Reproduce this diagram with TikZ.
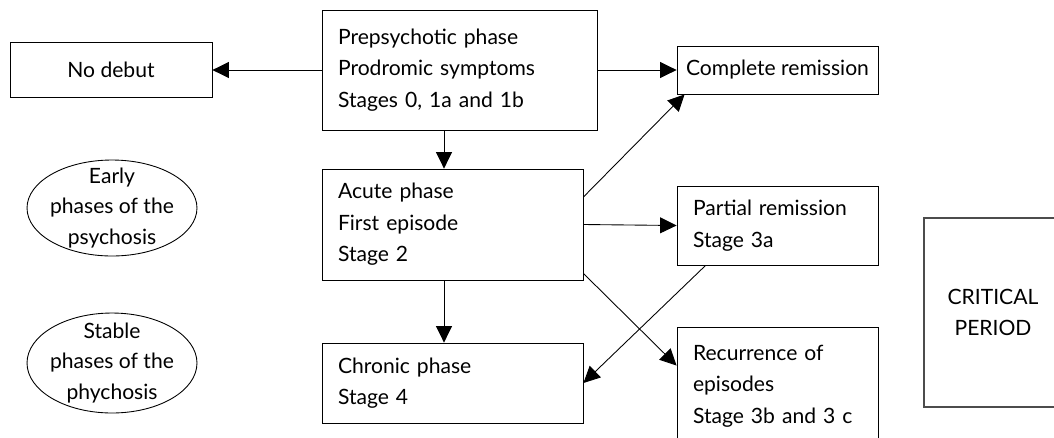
\documentclass[tikz,border=0pt]{standalone}
\usepackage{fontspec}
\setmainfont{Lato}
\usetikzlibrary{arrows.meta,shapes.geometric}

\tikzset{
  phasebox/.style={draw,rectangle,inner sep=0pt,align=left,
    font=\fontsize{12}{18}\selectfont},
  endbox/.style={draw,rectangle,inner sep=0pt,align=center,
    font=\fontsize{12}{18}\selectfont},
  phaseoval/.style={draw,ellipse,inner sep=0pt,minimum width=3.4cm},
  ovaltext/.style={align=center,inner sep=0pt,font=\fontsize{12}{17.5}\selectfont}
}

\begin{document}
\begin{tikzpicture}[x=0.02cm,y=-0.02cm,>={Triangle[length=3.3mm,width=3.2mm]},line width=0.5pt]

\clip (0,0) rectangle (1054,437);

%%%%%%%%%%%%%%%%%%%%%%%%%%%%%%%%%%%%%%

\node[phasebox,minimum width=5.5cm,minimum height=2.4cm,text width=4.86cm] (prep) at (459.5,70)
  {Prepsychotic phase\\Prodromic symptoms\\Stages 0, 1a and 1b};
\node[phasebox,minimum width=5.22cm,minimum height=2.22cm,text width=4.58cm] (acute) at (452.5,224.5)
  {Acute phase\\First episode\\Stage 2};
\node[phasebox,minimum width=5.22cm,minimum height=1.6cm,text width=4.58cm] (chronic) at (452.5,383)
  {Chronic phase\\Stage 4};

%%%%%%%%%%%%%%%%%%%%%%%%%%%%%%%%%%%%%%

\node[endbox,minimum width=4.04cm,minimum height=1.1cm] (nodebut) at (111,70) {No debut};
\node[endbox,minimum width=4.02cm,minimum height=0.96cm] (complete) at (777.5,70) {Complete remission};
\node[phasebox,minimum width=4.02cm,minimum height=1.58cm,text width=3.38cm] (partial) at (777.5,225.5)
  {Partial remission\\Stage 3a};
\node[phasebox,minimum width=4.02cm,minimum height=2.36cm,text width=3.38cm] (recur) at (777.5,386)
  {Recurrence of\\episodes\\Stage 3b and 3 c};
\node[endbox,draw=black!70,line width=1pt,minimum width=2.76cm,minimum height=3.78cm] (critical) at (993,312.5)
  {CRITICAL\\PERIOD};

%%%%%%%%%%%%%%%%%%%%%%%%%%%%%%%%%%%%%%

\node[phaseoval,minimum height=1.92cm] (early) at (112,208) {};
\node[ovaltext] (earlytext) at (early.center) {Early\\phases of the\\psychosis};
\node[phaseoval,minimum height=2cm] (stable) at (112,363) {};
\node[ovaltext] (stabletext) at (stable.center) {Stable\\phases of the\\phychosis};

%%%%%%%%%%%%%%%%%%%%%%%%%%%%%%%%%%%%%%

\draw[->] (prep.west) -- (nodebut.east);
\draw[->] (prep.east) -- (complete.west);
\draw[->] ([xshift=-0.17cm]acute.north |- prep.south) -- ([xshift=-0.17cm]acute.north);
\draw[->] ([xshift=-0.17cm]acute.south) -- ([xshift=-0.17cm]chronic.north);
\draw[->] ([yshift=0.55cm]acute.east) -- ([xshift=0.16cm]complete.south west);
\draw[->] (acute.east) -- (partial.west);
\draw[->] ([xshift=0.58cm]partial.south west) -- (chronic.east);
\draw[->] ([yshift=0.14cm]acute.south east) -- ([yshift=-0.78cm]recur.north west);

\end{tikzpicture}
\end{document}
